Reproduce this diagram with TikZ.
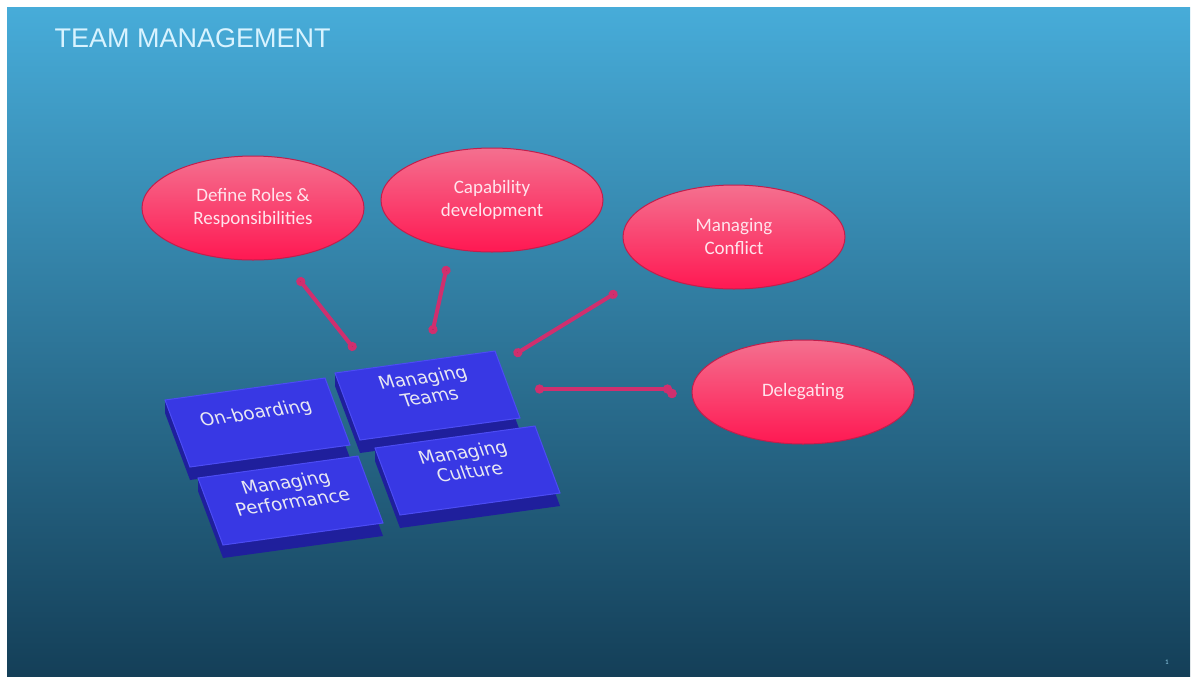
\documentclass[tikz,border=0pt]{standalone}
\usepackage{fontspec}
\setmainfont{Carlito}
\newfontfamily\titlefont{Liberation Sans}
\newfontfamily\tilefont{DejaVu Sans}
\usetikzlibrary{shapes.geometric}
\usetikzlibrary{arrows.meta}

\definecolor{slidetop}{HTML}{47ACD9}
\definecolor{slidemid}{HTML}{1E6D8F}
\definecolor{slidebot}{HTML}{143F58}
\definecolor{bubbletop}{HTML}{F4708F}
\definecolor{bubblebot}{HTML}{FF1852}
\definecolor{bubbleedge}{HTML}{C21E4C}
\definecolor{bubbletext}{HTML}{FFE4EC}
\definecolor{linkred}{HTML}{D02F6E}
\definecolor{tiletop}{HTML}{3838E4}
\definecolor{tileedge}{HTML}{4C4CF4}
\definecolor{tileside}{HTML}{1F1F9C}
\definecolor{tiletext}{HTML}{E8E8F2}
\definecolor{titletext}{HTML}{D8F3FF}

\tikzset{
  bubble/.style={ellipse, draw=bubbleedge, line width=1pt,
    top color=bubbletop, bottom color=bubblebot,
    minimum width=222pt, minimum height=104pt, inner sep=0pt,
    align=center, text=bubbletext,
    font=\fontsize{19}{23}\selectfont},
  tilelabel/.style={align=center, text=tiletext, rotate=8, xslant=-0.21,
    font=\tilefont\fontsize{18}{20}\selectfont},
  link/.style={draw=linkred, line width=4pt,
    {Circle[length=9pt]}-{Circle[length=9pt]}}
}

% slab: name, top left corner, label
\newcommand{\tileslab}[3]{%
  \fill[tileside] (#2) -- ++(160,-22) -- ++(0,13) -- ++(25,67)
    -- ++(-160,22) -- ++(-25,-67) -- cycle;
  \filldraw[fill=tiletop, draw=tileedge, line width=1pt]
    (#2) -- ++(160,-22) -- ++(25,67) -- ++(-160,22) -- cycle;
  \path (#2) ++(91,14) node[tilelabel] (#1) {#3};
}

\begin{document}
\begin{tikzpicture}[x=1pt,y=-1pt]
  \useasboundingbox (0,0) rectangle (1197,681);
  \fill[white] (0,0) rectangle (1197,681);
  \shade[top color=slidetop, middle color=slidemid, bottom color=slidebot]
    (7,7) rectangle (1190,676);

  \node[anchor=west, text=titletext, font=\titlefont\fontsize{27}{32}\selectfont]
    (title) at (51,38) {TEAM MANAGEMENT};

  % the four slabs
  \tileslab{teams}{335,373}{Managing\\Teams}
  \tileslab{onboard}{165,400}{On-boarding}
  \tileslab{culture}{375,448}{Managing\\Culture}
  \tileslab{perf}{198,478}{Managing\\Performance}

  % bubbles
  \node[bubble] (roles)    at (253,208) {Define Roles \&\\Responsibilities};
  \node[bubble] (capab)    at (492,200) {Capability\\development};
  \node[bubble] (conflict) at (734,237) {Managing\\Conflict};
  \node[bubble] (delegate) at (803,392) {Delegating};

  \coordinate (roles-a)    at (298,278);
  \coordinate (roles-b)    at (355,350);
  \coordinate (capab-a)    at (447,266);
  \coordinate (capab-b)    at (432,334);
  \coordinate (conflict-a) at (617,292);
  \coordinate (conflict-b) at (514,355);
  \coordinate (delegate-a) at (672,389);
  \coordinate (delegate-b) at (535,389);
  \path[link]
    (roles-a)    edge (roles-b)
    (capab-a)    edge (capab-b)
    (conflict-a) edge (conflict-b)
    (delegate-a) edge (delegate-b);

  \node[text=slidetop!60!white, font=\fontsize{7}{8}\selectfont] (pageno) at (1167,662) {1};
\end{tikzpicture}
\end{document}
